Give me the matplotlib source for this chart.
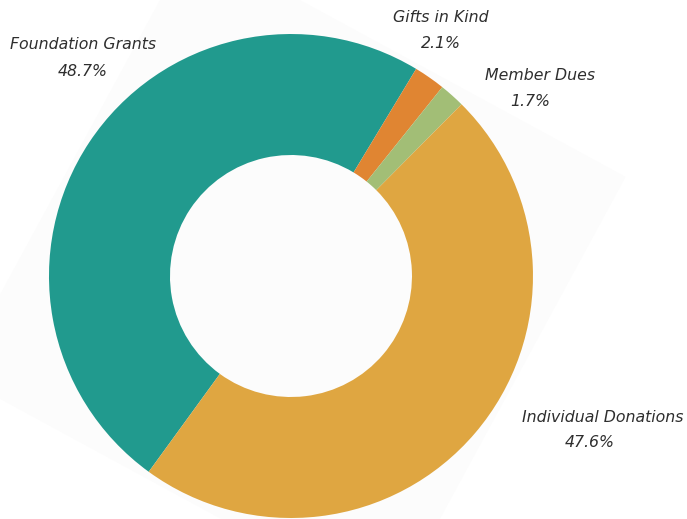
import matplotlib
matplotlib.use("Agg")
import matplotlib.pyplot as plt
from matplotlib.patches import Polygon
import numpy as np

# Funding sources
labels = ["Foundation Grants", "Gifts in Kind", "Member Dues", "Individual Donations"]
shares = [48.7, 2.1, 1.7, 47.6]
colors = ["#219A8E", "#E08532", "#A2BE76", "#DFA641"]

# label placement (data units, pie radius = 1): name line, percent line
name_pos = [(-0.86, 0.955), (0.62, 1.07), (1.03, 0.83), (1.29, -0.585)]
pct_pos = [(-0.86, 0.845), (0.62, 0.96), (0.99, 0.72), (1.235, -0.69)]

fig = plt.figure(figsize=(6.87, 5.19), dpi=100)
ax = fig.add_axes([0.0713, 0.0019, 0.7045, 0.9326])
ax.set_xlim(-1, 1)
ax.set_ylim(-1, 1)
ax.axis("off")

# faint rotated backdrop behind the donut
ang = np.radians(-28.5)
half = 1.02
corners = np.array([[-half, -half], [half, -half], [half, half], [-half, half]])
rot = np.array([[np.cos(ang), -np.sin(ang)], [np.sin(ang), np.cos(ang)]])
ax.add_patch(Polygon(corners @ rot.T, closed=True, facecolor="#fcfcfc",
                     edgecolor="none", zorder=0, clip_on=False))

ax.pie(shares, colors=colors, radius=1, startangle=234, counterclock=False,
       wedgeprops=dict(width=0.5, linewidth=0), frame=False)
ax.set_xlim(-1, 1)
ax.set_ylim(-1, 1)

font = dict(family="DejaVu Sans", style="italic", color="#2e2e2e", fontsize=11.3,
            ha="center", va="center", clip_on=False)
for lab, val, p1, p2 in zip(labels, shares, name_pos, pct_pos):
    ax.text(p1[0], p1[1], lab, **font)
    ax.text(p2[0], p2[1], f"{val:.1f}%", **font)

fig.savefig("out.png", dpi=100)
